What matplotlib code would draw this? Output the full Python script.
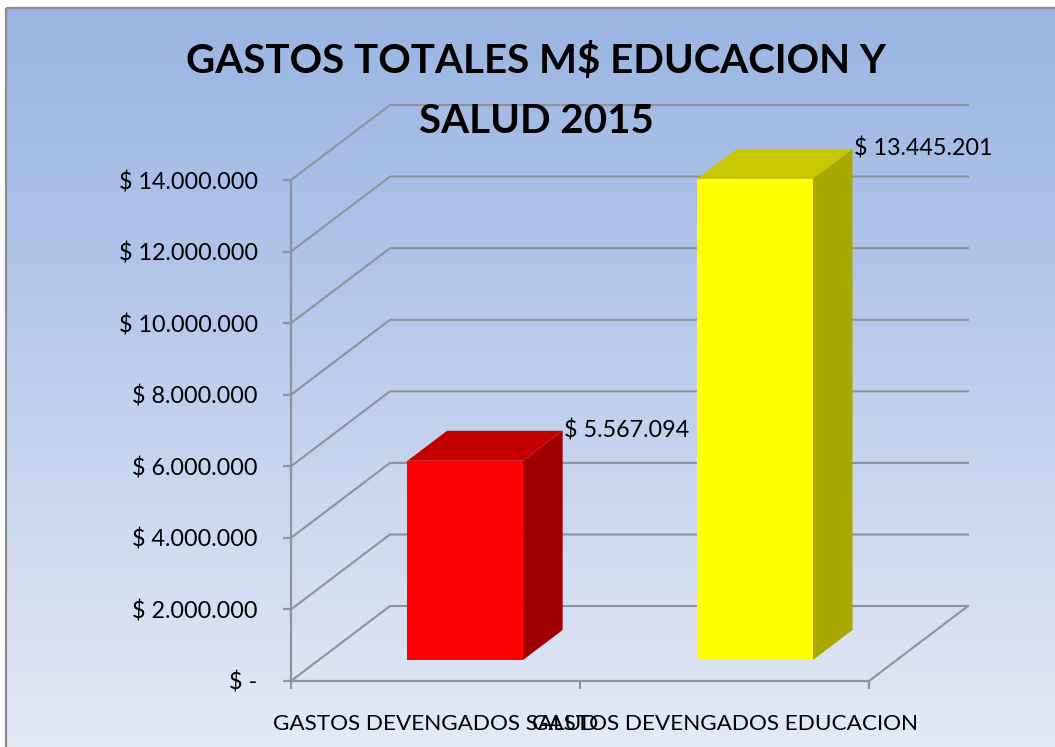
import numpy as np
import matplotlib
matplotlib.use('Agg')
import matplotlib.pyplot as plt
from matplotlib.colors import LinearSegmentedColormap
from matplotlib.patches import Polygon, Rectangle

categories = ['GASTOS DEVENGADOS SALUD', 'GASTOS DEVENGADOS EDUCACION']
values = [5567094, 13445201]
value_labels = ['$ 5.567.094', '$ 13.445.201']
y_ticks = [0, 2000000, 4000000, 6000000, 8000000, 10000000, 12000000, 14000000]
y_labels = ['$ -', '$ 2.000.000', '$ 4.000.000', '$ 6.000.000', '$ 8.000.000',
            '$ 10.000.000', '$ 12.000.000', '$ 14.000.000']
front_colors = ['#FF0000', '#FFFF00']
top_colors = ['#C40000', '#C8C800']
side_colors = ['#A00000', '#A8A800']
title = 'GASTOS TOTALES M$ EDUCACION Y\nSALUD 2015'

W, H = 1055, 747
GRID = '#8E929A'

plt.rcParams['font.family'] = ['Lato', 'DejaVu Sans']

fig = plt.figure(figsize=(W / 100, H / 100), dpi=100, facecolor='white')

# background panel with the vertical gradient
bg = fig.add_axes([0, 0, 1, 1])
bg.set_xlim(0, W)
bg.set_ylim(H, 0)
bg.axis('off')
cmap = LinearSegmentedColormap.from_list('panel', ['#9AB5E3', '#B0C4E9', '#CBD8EF', '#E4EAF6'])
grad = np.linspace(0, 1, 256).reshape(-1, 1)
bg.imshow(grad, cmap=cmap, aspect='auto', extent=[6, W + 5, H + 5, 8], zorder=1)
bg.set_xlim(0, W)
bg.set_ylim(H, 0)
bg.add_patch(Rectangle((6, 8), W + 5, H + 5, fill=False, ec='#8C8C8C', lw=1.6, zorder=2))

# front plane of the 3d box
x0, x1, y0, y1 = 291, 869, 681, 180
ax = fig.add_axes([x0 / W, 1 - y0 / H, (x1 - x0) / W, (y0 - y1) / H])
ax.patch.set_alpha(0)
ax.set_xlim(0, 2)
ax.set_ylim(0, 14000000)
for s in ['top', 'right']:
    ax.spines[s].set_visible(False)
for s in ['left', 'bottom']:
    ax.spines[s].set_color(GRID)
    ax.spines[s].set_linewidth(1.6)

DX = 99 / 289           # full depth, category units
DY = 75 / 71.6 * 2000000  # full depth, value units


def pt(x, y, d):
    return (x + d * DX, y + d * DY)


# gridlines on side and back walls
for v in y_ticks:
    a, b, c = pt(0, v, 0), pt(0, v, 1), pt(2, v, 1)
    ax.plot([a[0], b[0], c[0]], [a[1], b[1], c[1]], color=GRID, lw=1.5, clip_on=False, zorder=2)
a, b = pt(2, 0, 0), pt(2, 0, 1)
ax.plot([a[0], b[0]], [a[1], b[1]], color=GRID, lw=1.5, clip_on=False, zorder=2)

# bars
bar_w = 0.40
bar_pos = [0.507, 1.51]
d_front, d_back = 0.28, 0.68
for i, v in enumerate(values):
    l = bar_pos[i] - bar_w / 2
    r = bar_pos[i] + bar_w / 2
    front = [pt(l, 0, d_front), pt(r, 0, d_front), pt(r, v, d_front), pt(l, v, d_front)]
    top = [pt(l, v, d_front), pt(r, v, d_front), pt(r, v, d_back), pt(l, v, d_back)]
    side = [pt(r, 0, d_front), pt(r, 0, d_back), pt(r, v, d_back), pt(r, v, d_front)]
    ax.add_patch(Polygon(side, fc=side_colors[i], ec='none', clip_on=False, zorder=3))
    ax.add_patch(Polygon(top, fc=top_colors[i], ec='none', clip_on=False, zorder=3))
    ax.add_patch(Polygon(front, fc=front_colors[i], ec='none', clip_on=False, zorder=4))
    lx, ly = pt(r, v, d_back)
    ax.annotate(value_labels[i], (lx, ly), xytext=(1, 0), textcoords='offset points',
                ha='left', va='center', fontsize=16.8, color='black', zorder=6,
                annotation_clip=False)

ax.set_yticks(y_ticks)
ax.set_yticklabels(y_labels, fontsize=16.8)
ax.tick_params(axis='y', length=6, width=1.6, color=GRID, pad=18)
ax.set_xticks([0, 1, 2])
ax.set_xticklabels([])
ax.tick_params(axis='x', which='major', length=6, width=1.6, color=GRID)
ax.set_xticks([0.5, 1.5], minor=True)
ax.set_xticklabels(categories, minor=True, fontsize=16.2)
ax.tick_params(axis='x', which='minor', length=0, pad=24)

fig.text(536 / W, 1 - 91 / H, title, ha='center', va='center', fontsize=29,
         fontweight='bold', color='black', linespacing=1.78, zorder=10)

fig.savefig('out.png', dpi=100)
